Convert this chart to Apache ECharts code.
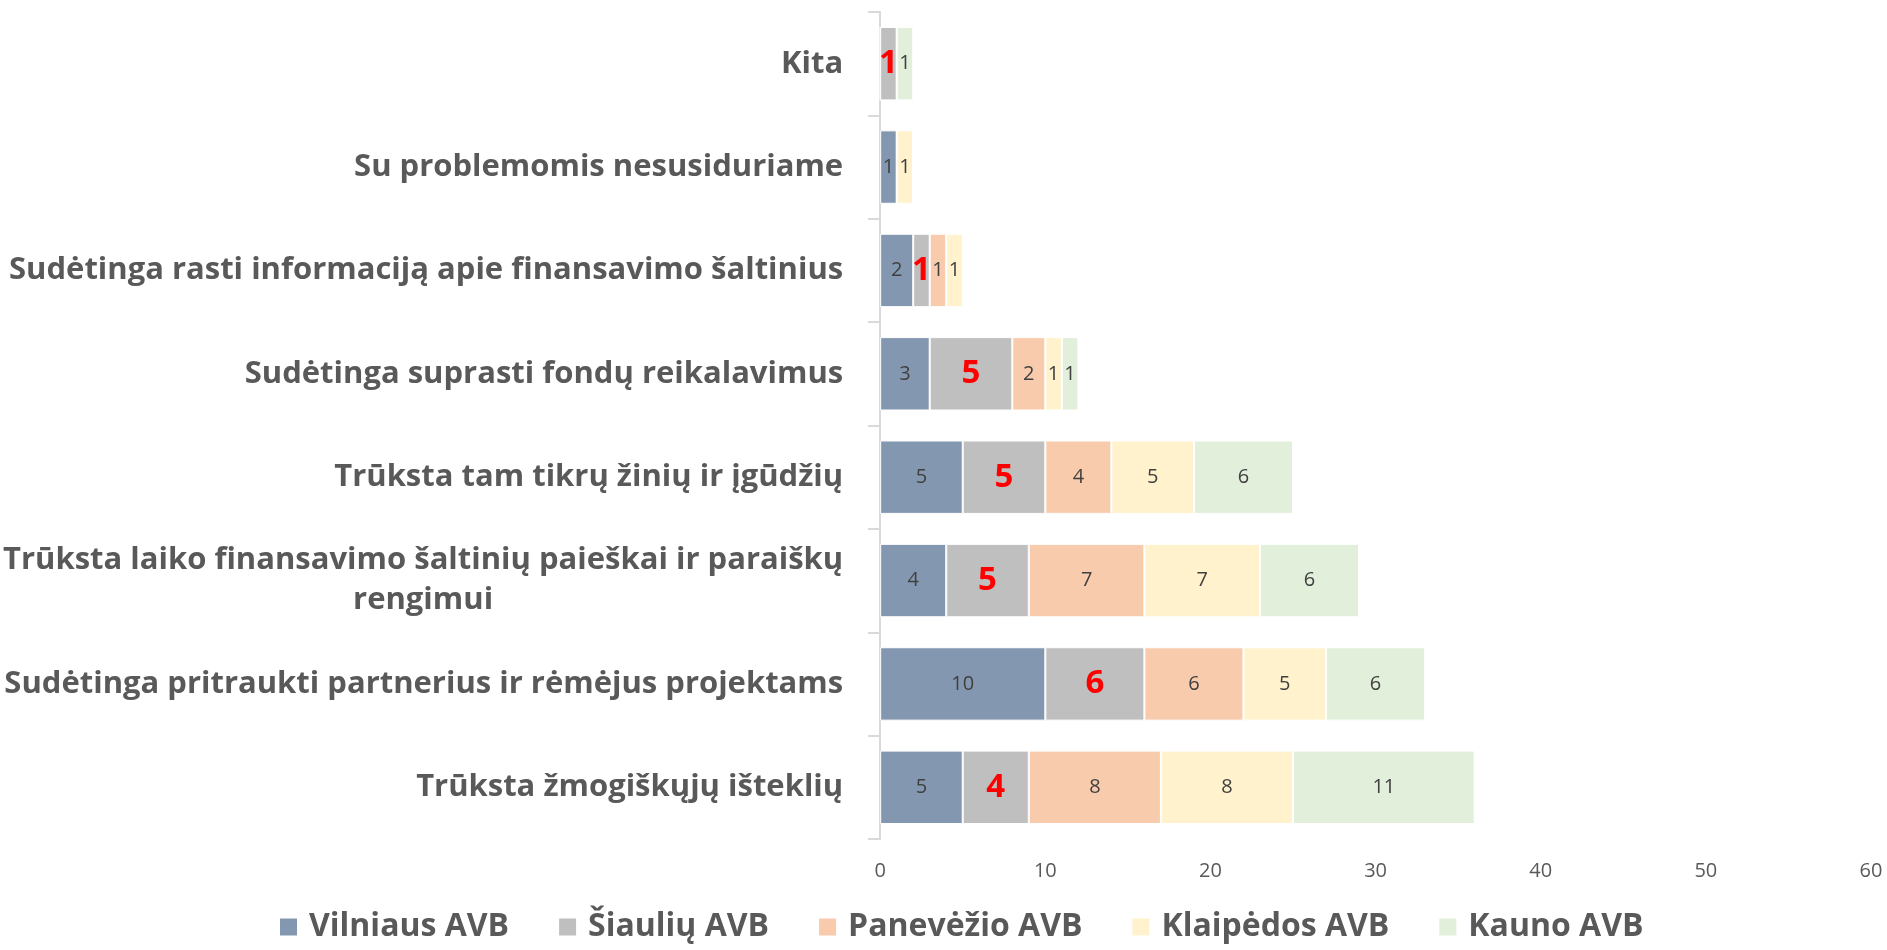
<!DOCTYPE html>
<html>
<head>
<meta charset="utf-8">
<script src="https://cdn.jsdelivr.net/npm/echarts@6/dist/echarts.min.js"></script>
<style>
html, body { margin: 0; padding: 0; background: #fff; }
#main { width: 1887px; height: 950px; }
</style>
</head>
<body>
<div id="main"></div>
<script>
var FONT = "'Open Sans', sans-serif";

// categories, bottom to top
var categories = [
    'Trūksta žmogiškųjų išteklių',
    'Sudėtinga pritraukti partnerius ir rėmėjus projektams',
    'Trūksta laiko finansavimo šaltinių paieškai ir paraiškų\nrengimui',
    'Trūksta tam tikrų žinių ir įgūdžių',
    'Sudėtinga suprasti fondų reikalavimus',
    'Sudėtinga rasti informaciją apie finansavimo šaltinius',
    'Su problemomis nesusiduriame',
    'Kita'
];
var seriesNames = ['Vilniaus AVB', 'Šiaulių AVB', 'Panevėžio AVB', 'Klaipėdos AVB', 'Kauno AVB'];
var vilnius   = [5, 10, 4, 5, 3, 2, 1, 0];
var siauliai  = [4, 6, 5, 5, 5, 1, 0, 1];
var panevezys = [8, 6, 7, 4, 2, 1, 0, 0];
var klaipeda  = [8, 5, 7, 5, 1, 1, 1, 0];
var kaunas    = [11, 6, 6, 6, 1, 0, 0, 1];
var xTicks = [0, 60, 10];

var colors = ['#8497b0', '#bfbfbf', '#f8cbad', '#fff2cc', '#e2efda'];
var allData = [vilnius, siauliai, panevezys, klaipeda, kaunas];

var myChart = echarts.init(document.getElementById('main'));

var series = allData.map(function (d, i) {
    var red = i === 1;
    return {
        name: seriesNames[i],
        type: 'bar',
        stack: 'total',
        barCategoryGap: '29%',
        itemStyle: { color: colors[i], borderColor: '#fff', borderWidth: 1 },
        label: {
            show: true,
            position: 'inside',
            fontFamily: FONT,
            fontSize: red ? 33 : 20,
            fontWeight: red ? 'bold' : 'normal',
            color: red ? '#ff0000' : '#404040',
            formatter: function (p) { return p.value ? String(p.value) : ''; }
        },
        emphasis: { disabled: true },
        data: d
    };
});

option = {
    animation: false,
    textStyle: { fontFamily: FONT },
    grid: { left: 875, right: 16, top: 12, bottom: 111, containLabel: false },
    legend: {
        bottom: 2,
        left: 273,
        itemWidth: 19,
        itemHeight: 19,
        itemGap: 48,
        icon: 'rect',
        textStyle: { fontFamily: FONT, fontSize: 32, fontWeight: 'bold', color: '#595959', padding: [0, 0, 0, 6] },
        data: seriesNames
    },
    xAxis: {
        type: 'value',
        min: xTicks[0],
        max: xTicks[1],
        interval: xTicks[2],
        axisLine: { show: false },
        axisTick: { show: false },
        splitLine: { show: false },
        axisLabel: { color: '#595959', fontSize: 20, fontFamily: FONT, margin: 22 }
    },
    yAxis: {
        type: 'category',
        data: categories,
        axisLine: { lineStyle: { color: '#d9d9d9', width: 2 } },
        axisTick: { show: true, length: 12, lineStyle: { color: '#d9d9d9', width: 2 } },
        axisLabel: {
            margin: 37,
            color: '#595959',
            fontFamily: FONT,
            fontSize: 31,
            fontWeight: 'bold',
            lineHeight: 40,
            formatter: function (v) {
                if (v.indexOf('\n') >= 0) {
                    return v.split('\n').map(function (s) { return '{c|' + s + '}'; }).join('\n');
                }
                return v;
            },
            rich: {
                c: { align: 'center', fontFamily: FONT, fontSize: 31, fontWeight: 'bold', color: '#595959', lineHeight: 40 }
            }
        }
    },
    series: series
};
myChart.setOption(option);
</script>
</body>
</html>
